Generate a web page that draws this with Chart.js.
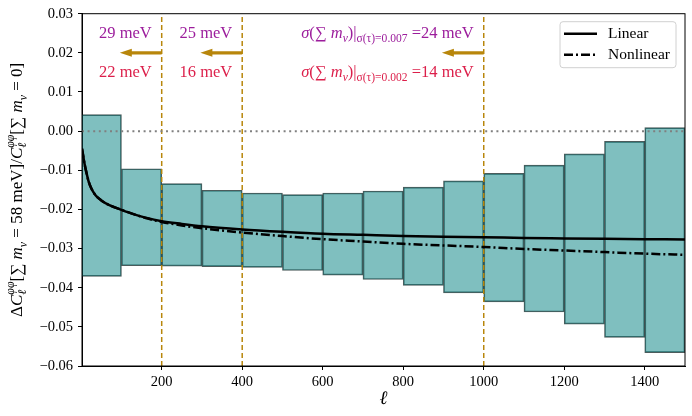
<!DOCTYPE html>
<html>
<head>
<meta charset="utf-8">
<script src="https://cdn.jsdelivr.net/npm/chart.js@4.4.1/dist/chart.umd.min.js"></script>
<style>
  html, body { margin: 0; padding: 0; background: #fff; }
  #wrap { width: 692px; height: 416px; }
</style>
</head>
<body>
<div id="wrap"><canvas id="myChart"></canvas></div>
<script>
// bins of width 100 in ell, error band edges
const binWidth = 100
const binLows = [0, 100, 200, 300, 400, 500, 600, 700, 800, 900, 1000, 1100, 1200, 1300, 1400]
const binTops = [0.0042, -0.0096, -0.0134, -0.0151, -0.0158, -0.0162, -0.0158, -0.0153, -0.0143, -0.0127, -0.0108, -0.0087, -0.0058, -0.0026, 0.0009]
const binBottoms = [-0.0371, -0.0344, -0.0345, -0.0346, -0.0348, -0.0356, -0.0368, -0.0379, -0.0394, -0.0413, -0.0436, -0.0462, -0.0493, -0.0527, -0.0566]

// theory curves
const ellValues = [2, 4, 6, 9, 13, 18, 25, 35, 50, 70, 100, 130, 160, 200, 250, 300, 400, 500, 600, 700, 800, 900, 1000, 1100, 1200, 1300, 1400, 1500]
const linearValues = [-0.0045, -0.0057, -0.0070, -0.0087, -0.0106, -0.0127, -0.0146, -0.0163, -0.0177, -0.0189, -0.0201, -0.0212, -0.0221, -0.0230, -0.0237, -0.0243, -0.0251, -0.0257, -0.0262, -0.0265, -0.0268, -0.0270, -0.0271, -0.0273, -0.0274, -0.0275, -0.0276, -0.0277]
const nonlinearValues = [-0.0045, -0.0057, -0.0070, -0.0087, -0.0106, -0.0127, -0.0146, -0.0163, -0.0177, -0.0189, -0.0201, -0.0212, -0.0222, -0.0232, -0.0241, -0.0248, -0.0259, -0.0268, -0.0276, -0.0282, -0.0288, -0.0292, -0.0296, -0.0301, -0.0305, -0.0309, -0.0313, -0.0316]

// axes
const xMin = 2
const xMax = 1500
const yMin = -0.06
const yMax = 0.03
const xTicks = [200, 400, 600, 800, 1000, 1200, 1400]
const yTicks = [-0.06, -0.05, -0.04, -0.03, -0.02, -0.01, 0.00, 0.01, 0.02, 0.03]

// ell_max cuts and the forecast sigma for each
const cutLines = [200, 400, 1000]
const arrowLength = 104
const arrowLevel = 0.02
const sigmaTau007 = ['29', '25', '24']
const sigmaTau002 = ['22', '16', '14']
const labelLevels = [0.025, 0.015]

const serif = '"Liberation Serif", "DejaVu Serif", serif'
const gold = '#b8860b'
const purple = '#9c1d9c'
const crimson = '#dc1f4a'

const font = (size, italic) => (italic ? 'italic ' : '') + size + 'px ' + serif

// parts: {t, it, sub} ; stack part has sup and low text together
function partWidth(ctx, p, size) {
  if (p.stack) {
    ctx.font = font(size * 0.7, true)
    return Math.max(ctx.measureText(p.sup).width, ctx.measureText(p.low).width)
  }
  ctx.font = font(p.sub ? size * 0.7 : size, p.it)
  return ctx.measureText(p.t).width
}

function drawRich(ctx, parts, x, y, size, align, color) {
  ctx.save()
  ctx.fillStyle = color
  ctx.textBaseline = 'middle'
  ctx.textAlign = 'left'
  let total = 0
  parts.forEach(p => { total += partWidth(ctx, p, size) })
  let cx = x
  if (align === 'right') cx = x - total
  if (align === 'center') cx = x - total / 2
  parts.forEach(p => {
    const w = partWidth(ctx, p, size)
    if (p.stack) {
      ctx.font = font(size * 0.7, true)
      ctx.fillText(p.sup, cx, y - size * 0.42)
      ctx.fillText(p.low, cx, y + size * 0.3)
    } else {
      ctx.font = font(p.sub ? size * 0.7 : size, p.it)
      ctx.fillText(p.t, cx, p.sub ? y + size * 0.32 : y)
    }
    cx += w
  })
  ctx.restore()
}

function sigmaParts(tau, val) {
  return [
    {t: 'σ', it: true}, {t: '('}, {t: '∑ '}, {t: 'm', it: true}, {t: 'ν', it: true, sub: true},
    {t: ')|'}, {t: 'σ(τ)=' + tau, sub: true}, {t: ' =' + val + ' meV'}
  ]
}

const yLabelParts = [
  {t: 'Δ'}, {t: 'C', it: true}, {stack: true, sup: 'φφ', low: 'ℓ'},
  {t: '[∑ '}, {t: 'm', it: true}, {t: 'ν', it: true, sub: true}, {t: ' = 58 meV]/'},
  {t: 'C', it: true}, {stack: true, sup: 'φφ', low: 'ℓ'},
  {t: '[∑ '}, {t: 'm', it: true}, {t: 'ν', it: true, sub: true}, {t: ' = 0]'}
]

const decorations = {
  id: 'decorations',
  afterDatasetsDraw(chart) {
    const {ctx, chartArea, scales} = chart
    const xs = scales.x
    const ys = scales.y

    // arrows and sigma labels
    cutLines.forEach((cut, i) => {
      const x0 = xs.getPixelForValue(cut)
      const x1 = xs.getPixelForValue(cut - arrowLength)
      const ya = ys.getPixelForValue(arrowLevel)
      ctx.save()
      ctx.fillStyle = gold
      ctx.strokeStyle = gold
      ctx.lineWidth = 3.2
      ctx.beginPath()
      ctx.moveTo(x0, ya)
      ctx.lineTo(x1 + 10, ya)
      ctx.stroke()
      ctx.beginPath()
      ctx.moveTo(x1, ya)
      ctx.lineTo(x1 + 12, ya - 4)
      ctx.lineTo(x1 + 12, ya + 4)
      ctx.closePath()
      ctx.fill()
      ctx.restore()

      const xr = x0 - 10
      const y1 = ys.getPixelForValue(labelLevels[0])
      const y2 = ys.getPixelForValue(labelLevels[1])
      if (i < cutLines.length - 1) {
        drawRich(ctx, [{t: sigmaTau007[i] + ' meV'}], xr, y1, 16.5, 'right', purple)
        drawRich(ctx, [{t: sigmaTau002[i] + ' meV'}], xr, y2, 16.5, 'right', crimson)
      } else {
        drawRich(ctx, sigmaParts('0.007', sigmaTau007[i]), xr, y1, 16.5, 'right', purple)
        drawRich(ctx, sigmaParts('0.002', sigmaTau002[i]), xr, y2, 16.5, 'right', crimson)
      }
    })

    // legend
    const lw = 116, lh = 46
    const lx = chartArea.right - 9 - lw
    const ly = chartArea.top + 8
    ctx.save()
    ctx.fillStyle = 'rgba(255,255,255,0.85)'
    ctx.strokeStyle = '#d0d0d0'
    ctx.lineWidth = 1
    ctx.beginPath()
    ctx.roundRect(lx, ly, lw, lh, 3)
    ctx.fill()
    ctx.stroke()
    ctx.strokeStyle = '#000'
    ctx.lineWidth = 2.5
    ctx.beginPath()
    ctx.moveTo(lx + 4, ly + 12)
    ctx.lineTo(lx + 37, ly + 12)
    ctx.stroke()
    ctx.setLineDash([9, 3, 2, 3])
    ctx.beginPath()
    ctx.moveTo(lx + 4, ly + 33)
    ctx.lineTo(lx + 37, ly + 33)
    ctx.stroke()
    ctx.restore()
    drawRich(ctx, [{t: 'Linear'}], lx + 48, ly + 12, 15.5, 'left', '#000')
    drawRich(ctx, [{t: 'Nonlinear'}], lx + 48, ly + 33, 15.5, 'left', '#000')

    // frame
    ctx.save()
    ctx.strokeStyle = '#000'
    ctx.lineWidth = 1
    ctx.strokeRect(chartArea.left, chartArea.top, chartArea.right - chartArea.left, chartArea.bottom - chartArea.top)
    ctx.restore()
  },
  afterDraw(chart) {
    const {ctx, chartArea} = chart
    // axis titles
    drawRich(ctx, [{t: 'ℓ', it: true}], (chartArea.left + chartArea.right) / 2, 399, 19, 'center', '#000')
    ctx.save()
    ctx.translate(18, (chartArea.top + chartArea.bottom) / 2)
    ctx.rotate(-Math.PI / 2)
    drawRich(ctx, yLabelParts, 0, 0, 17, 'center', '#000')
    ctx.restore()
  }
}

const tickFont = {family: serif, size: 14.5}

const chart = new Chart(document.getElementById('myChart'), {
  type: 'bar',
  data: {
    datasets: [
      {
        type: 'bar',
        label: 'bins',
        data: binLows.map((lo, i) => ({x: lo + binWidth / 2, y: [binBottoms[i], binTops[i]]})),
        backgroundColor: 'rgba(0,128,128,0.5)',
        borderColor: 'rgba(30,50,50,0.8)',
        borderWidth: 1,
        borderSkipped: false,
        barPercentage: 1,
        categoryPercentage: 1,
        order: 5
      },
      {
        type: 'line',
        label: 'zero',
        data: [{x: xMin, y: 0}, {x: xMax, y: 0}],
        borderColor: '#808080',
        borderWidth: 2,
        borderDash: [2, 3.6],
        pointRadius: 0,
        order: 2
      },
      ...cutLines.map(c => ({
        type: 'line',
        label: 'cut ' + c,
        data: [{x: c, y: yMin}, {x: c, y: yMax}],
        borderColor: gold,
        borderWidth: 1.5,
        borderDash: [5, 3],
        pointRadius: 0,
        order: 3
      })),
      {
        type: 'line',
        label: 'Linear',
        data: ellValues.map((l, i) => ({x: l, y: linearValues[i]})),
        borderColor: '#000',
        borderWidth: 2.5,
        pointRadius: 0,
        cubicInterpolationMode: 'monotone',
        order: 1
      },
      {
        type: 'line',
        label: 'Nonlinear',
        data: ellValues.map((l, i) => ({x: l, y: nonlinearValues[i]})),
        borderColor: '#000',
        borderWidth: 2.5,
        borderDash: [9, 3, 2, 3],
        pointRadius: 0,
        cubicInterpolationMode: 'monotone',
        order: 0
      }
    ]
  },
  options: {
    responsive: true,
    maintainAspectRatio: false,
    animation: false,
    events: [],
    layout: {padding: {top: 13, right: 7, left: 0, bottom: 0}},
    plugins: {legend: {display: false}, tooltip: {enabled: false}},
    scales: {
      x: {
        type: 'linear',
        min: xMin,
        max: xMax,
        offset: false,
        afterBuildTicks: s => { s.ticks = xTicks.map(v => ({value: v})) },
        afterFit: s => { s.height = 50 },
        ticks: {font: tickFont, color: '#000', padding: 3, maxRotation: 0, callback: v => String(v)},
        grid: {drawOnChartArea: false, offset: false, tickLength: 4, color: '#000'},
        border: {color: '#000'}
      },
      y: {
        min: yMin,
        max: yMax,
        afterBuildTicks: s => { s.ticks = yTicks.map(v => ({value: v})) },
        afterFit: s => { s.width = 82 },
        ticks: {font: tickFont, color: '#000', padding: 5, callback: v => v.toFixed(2).replace('-', '\u2212')},
        grid: {drawOnChartArea: false, tickLength: 4, color: '#000'},
        border: {color: '#000'}
      }
    }
  },
  plugins: [decorations]
})
</script>
</body>
</html>
